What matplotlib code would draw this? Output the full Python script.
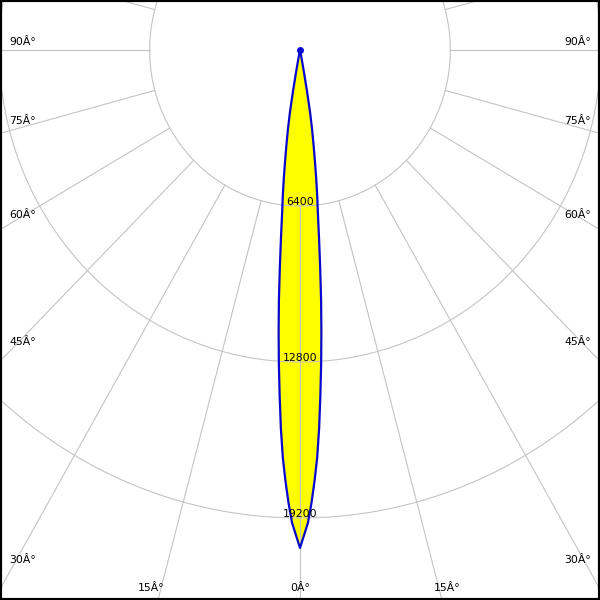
import numpy as np
import matplotlib
matplotlib.use('Agg')
import matplotlib.pyplot as plt

# ---- data ----
angles_deg = [0, 0.5, 1, 1.5, 2, 2.5, 3, 3.5, 4, 4.5, 5, 5.5, 6, 6.5, 7, 7.5,
              8, 8.5, 9, 9.5, 10, 10.5, 11, 11.5, 12, 15, 90]
intensity_cd = [20430, 19900, 19400, 18600, 17700, 16750, 15550, 14200, 12900, 11600,
                10300, 8950, 7750, 6720, 6000, 5250, 4520, 3870, 3260, 2620,
                1730, 900, 350, 100, 0, 0, 0]
ring_values = [6400, 12800, 19200]
ring_labels = ['6400', '12800', '19200']
spoke_angles = [-105, -90, -75, -60, -45, -30, -15, 0, 15, 30, 45, 60, 75, 90, 105]
angle_labels = ['90Â°', '75Â°', '60Â°', '45Â°', '30Â°', '15Â°', '0Â°']

# ---- scales (pixels per cd) ----
W = H = 600
SX = 0.02349
SY = 0.024375
CX, CY = 300, 50

fig = plt.figure(figsize=(6, 6), dpi=100)
ax = fig.add_axes([0, 0, 1, 1])
ax.set_xlim(-CX / SX, (W - CX) / SX)
ax.set_ylim(-(H - CY) / SY, CY / SY)
ax.set_xticks([]); ax.set_yticks([])
for s in ax.spines.values():
    s.set_linewidth(3.0)
    s.set_color('black')

grid_c = '#c4c4c4'
# rings
t = np.linspace(0, 2 * np.pi, 1441)
for R in ring_values:
    ax.plot(R * np.sin(t), -R * np.cos(t), color=grid_c, lw=0.8, zorder=2)
# spokes from first ring outward
for a in spoke_angles:
    ar = np.radians(a)
    r = np.array([ring_values[0], 60000])
    ax.plot(r * np.sin(ar), -r * np.cos(ar), color=grid_c, lw=0.8, zorder=2)

# curve
ang = np.array(angles_deg, dtype=float)
I = np.array(intensity_cd, dtype=float)
th = np.radians(np.concatenate([-ang[::-1], ang[1:]]))
Iv = np.concatenate([I[::-1], I[1:]])
x = Iv * np.sin(th)
y = -Iv * np.cos(th)
ax.fill(x, y, color='#ffff00', zorder=1, lw=0)
ax.plot(x, y, color='#0808d0', lw=1.6, zorder=3, solid_joinstyle='round')
ax.plot([0], [0], 'o', color='#0808d0', ms=4, zorder=4)

# ring labels
for R, lab in zip(ring_values, ring_labels):
    ax.annotate(lab, (0, -R), xytext=(0, 0.8), textcoords='offset points',
                ha='center', va='baseline', fontsize=7.8, color='black', zorder=5)

# angle labels (pixel positions from top-left)
fs = 7.8
def ptxt(px, py, s, ha):
    fig.text(px / W, 1 - py / H, s, ha=ha, va='center', fontsize=fs, color='black')

left_y = [42, 121, 215, 342, 560]
for lab, yy in zip(angle_labels[:5], left_y):
    ptxt(9, yy, lab, 'left')
    ptxt(591, yy, lab, 'right')
ptxt(151, 588, angle_labels[5], 'center')
ptxt(447, 588, angle_labels[5], 'center')
ptxt(300, 588, angle_labels[6], 'center')

fig.savefig('out.png', dpi=100)
